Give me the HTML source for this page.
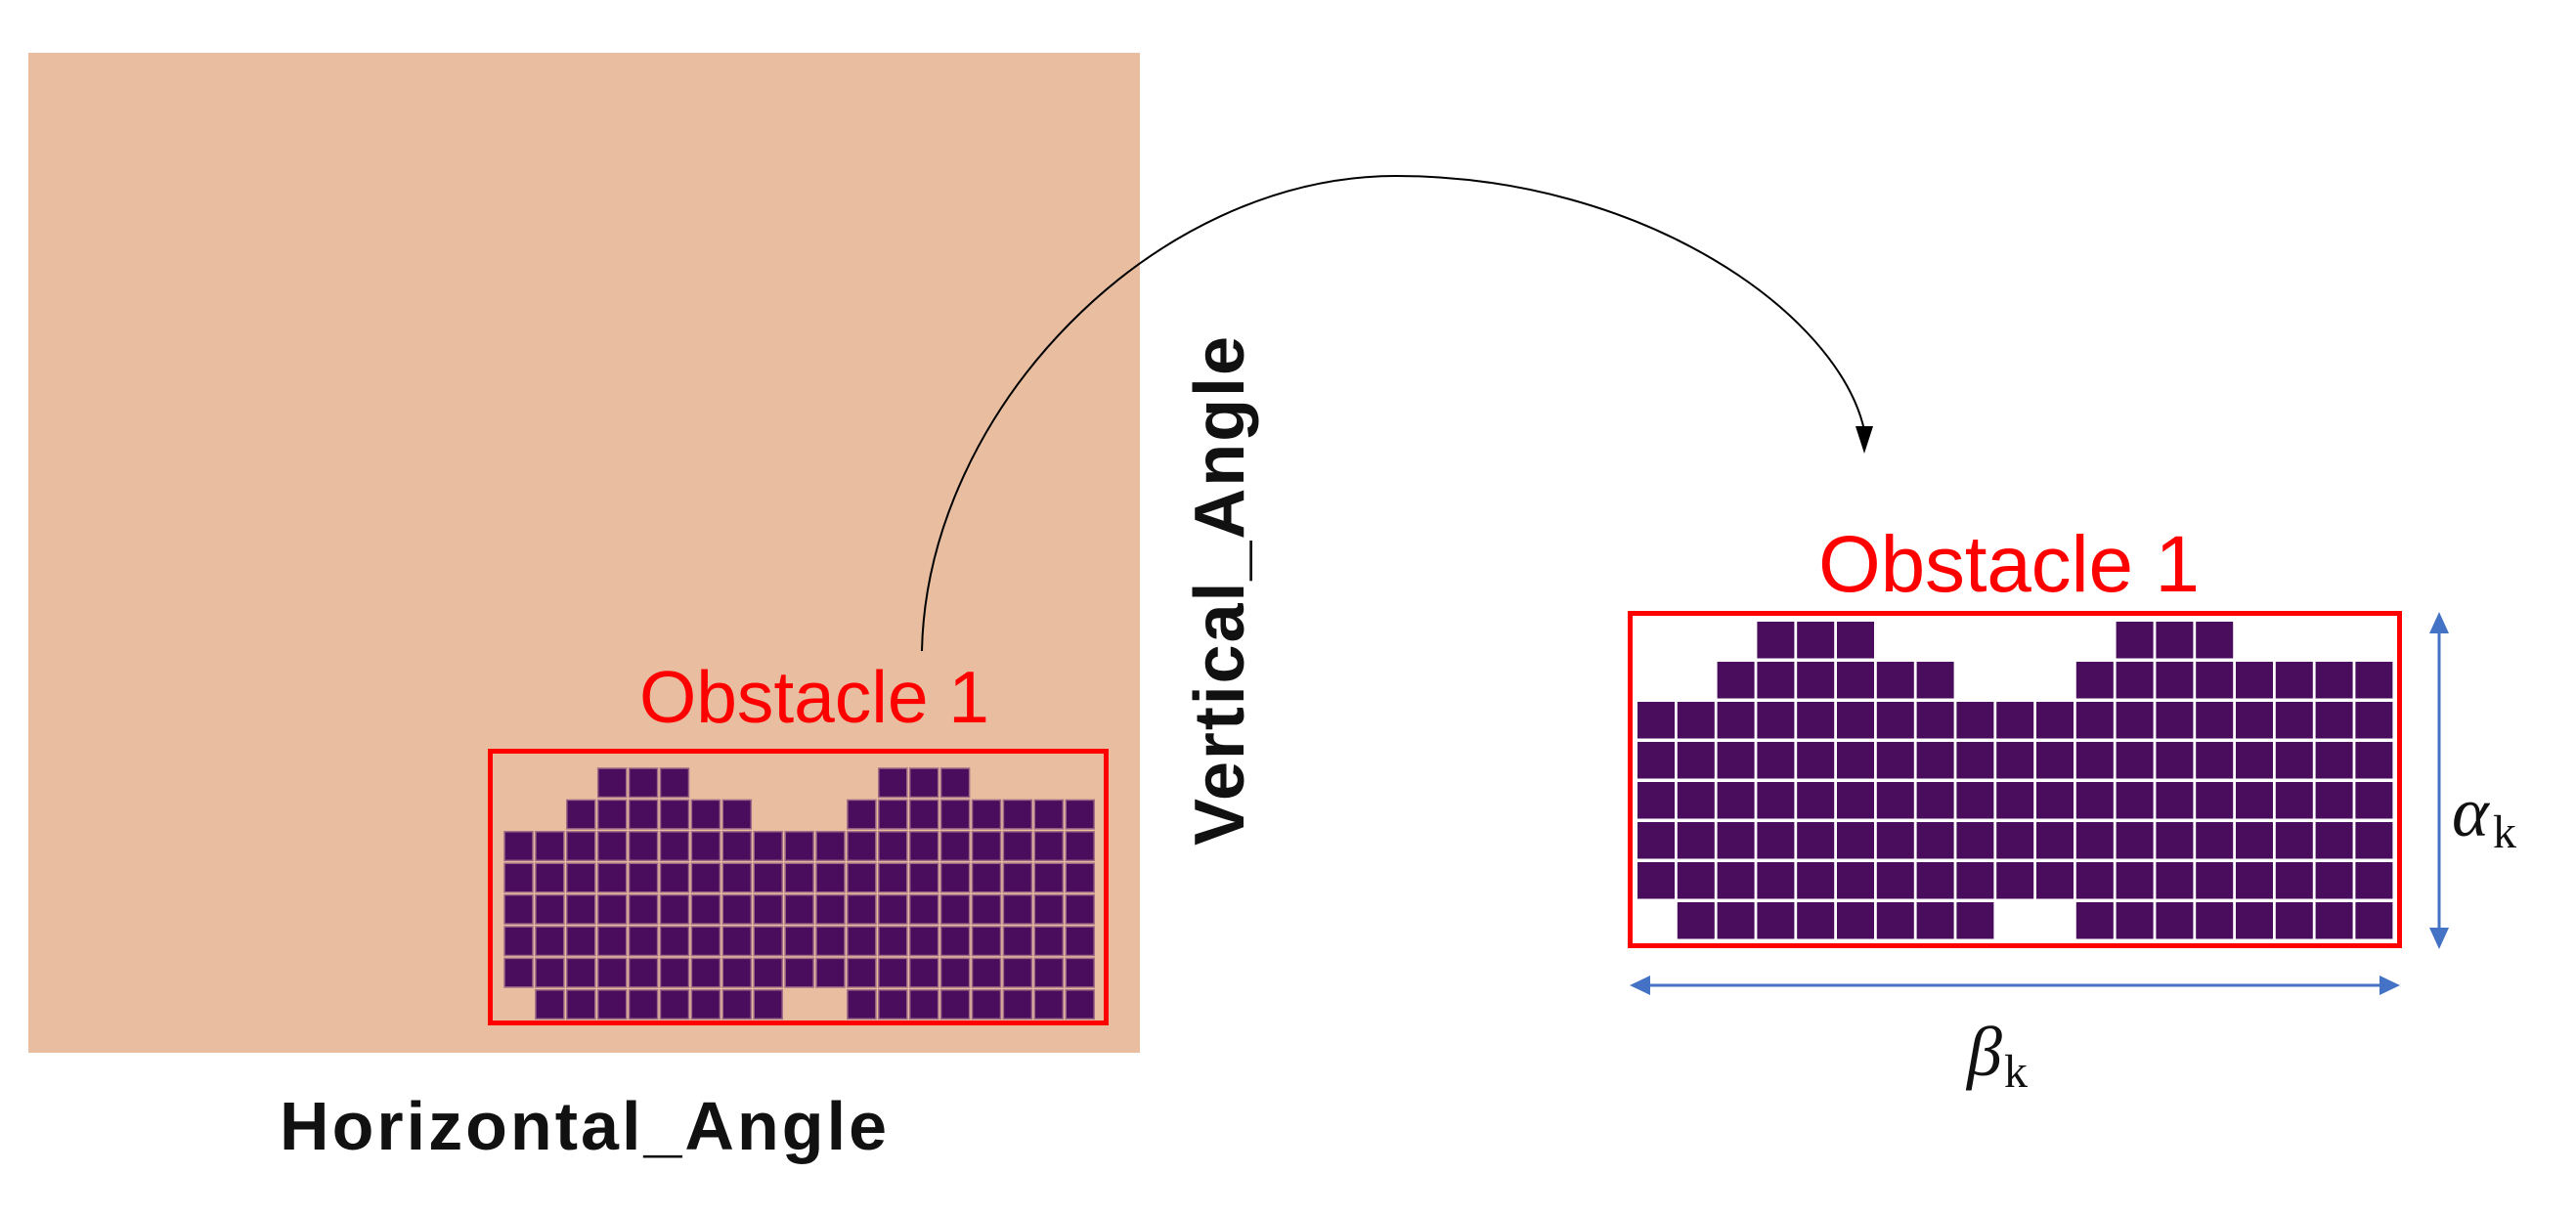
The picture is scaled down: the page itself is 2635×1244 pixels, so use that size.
<!DOCTYPE html>
<html><head><meta charset="utf-8"><style>
html,body{margin:0;padding:0;background:#fff;}
svg{display:block;}
</style></head><body>
<svg width="2635" height="1244" viewBox="0 0 2635 1244" xmlns="http://www.w3.org/2000/svg">
<rect x="29" y="54" width="1137" height="1023" fill="#E8BDA0"/>
<g id="L"></g>
<rect x="501.5" y="768.5" width="630" height="278" fill="none" stroke="#FF0000" stroke-width="5"/>
<text x="654" y="739" font-family="Liberation Sans, sans-serif" font-size="75" fill="#FF0000" textLength="358">Obstacle 1</text>
<text x="286" y="1176" font-family="Liberation Sans, sans-serif" font-weight="bold" font-size="70" fill="#111" textLength="621">Horizontal_Angle</text>
<text transform="translate(1272,865) rotate(-90)" x="0" y="0" font-family="Liberation Sans, sans-serif" font-weight="bold" font-size="72" fill="#111" textLength="521">Vertical_Angle</text>
<path d="M943,666 C948,420 1180,180 1428,180 C1680,180 1880,320 1907,440" fill="none" stroke="#000" stroke-width="2"/>
<polygon points="1898,436 1916,436 1907,464" fill="#000"/>
<rect x="1667.5" y="627.5" width="787" height="340" fill="none" stroke="#FF0000" stroke-width="5"/>
<text x="1860" y="605" font-family="Liberation Sans, sans-serif" font-size="82" fill="#FF0000" textLength="390">Obstacle 1</text>
<line x1="2495" y1="645" x2="2495" y2="952" stroke="#4472C4" stroke-width="3"/>
<polygon points="2485,648 2505,648 2495,626" fill="#4472C4"/>
<polygon points="2485,949 2505,949 2495,971" fill="#4472C4"/>
<line x1="1685" y1="1008" x2="2437" y2="1008" stroke="#4472C4" stroke-width="3"/>
<polygon points="1688,998 1688,1018 1667,1008" fill="#4472C4"/>
<polygon points="2434,998 2434,1018 2455,1008" fill="#4472C4"/>
<text x="2508" y="855" font-family="Liberation Serif, serif" font-style="italic" font-size="72" fill="#111">α</text>
<text x="2550" y="867" font-family="Liberation Serif, serif" font-size="48" fill="#111">k</text>
<text x="2012" y="1100" font-family="Liberation Serif, serif" font-style="italic" font-size="72" fill="#111">β</text>
<text x="2050" y="1112" font-family="Liberation Serif, serif" font-size="48" fill="#111">k</text>
<g id="R"></g>
</svg>
<script>
var rows=[[3,4,5,12,13,14],[2,3,4,5,6,7,11,12,13,14,15,16,17,18],'all','all','all','all','all',[1,2,3,4,5,6,7,8,11,12,13,14,15,16,17,18]];
function grid(id,x0,y0,px,py,w,h,stroke){
 var g=document.getElementById(id),ns="http://www.w3.org/2000/svg";
 rows.forEach(function(r,i){
  var cols=r==='all'?Array.from({length:19},function(_,k){return k}):r;
  cols.forEach(function(c){
   var e=document.createElementNS(ns,'rect');
   e.setAttribute('x',x0+c*px);e.setAttribute('y',y0+i*py);
   e.setAttribute('width',w);e.setAttribute('height',h);
   e.setAttribute('fill','#4A0C5C');
   if(stroke){e.setAttribute('stroke',stroke);e.setAttribute('stroke-width','1.5');}
   g.appendChild(e);
  });
 });
}
grid('L',516,786,31.9,32.4,29,29.5,'#9C6A86');
grid('R',1675,636,40.8,41,38,37.5,null);
</script>
</body></html>
